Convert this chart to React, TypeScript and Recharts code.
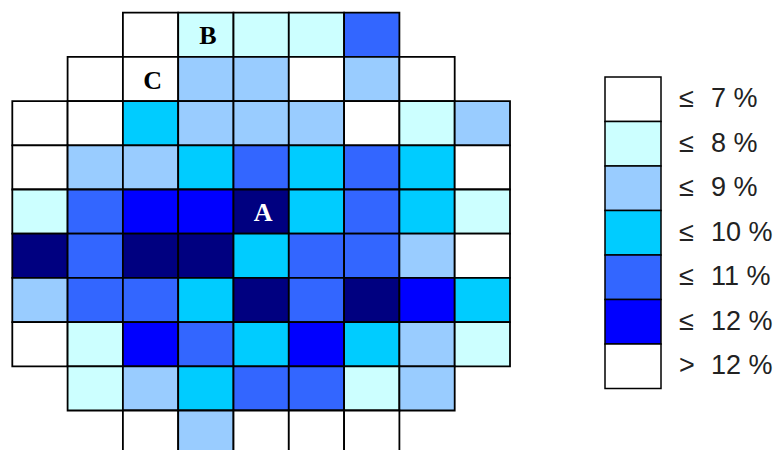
import React from 'react';
import { ScatterChart, Scatter, XAxis, YAxis, ReferenceArea } from 'recharts';

// Level codes: 7 => ≤7%, 8 => ≤8%, ..., 12 => ≤12%, 13 => >12%
const rowStarts = [2, 1, 0, 0, 0, 0, 0, 0, 1, 2];
const rowValues: number[][] = [
  [7, 8, 8, 8, 11],
  [7, 7, 9, 9, 7, 9, 7],
  [7, 7, 10, 9, 9, 9, 7, 8, 9],
  [7, 9, 9, 10, 11, 10, 11, 10, 7],
  [8, 11, 12, 12, 13, 10, 11, 10, 8],
  [13, 11, 13, 13, 10, 11, 11, 9, 7],
  [9, 11, 11, 10, 13, 11, 13, 12, 10],
  [7, 8, 12, 11, 10, 12, 10, 9, 8],
  [8, 9, 10, 11, 11, 8, 9],
  [7, 9, 7, 7, 7],
];

const cellLabels = [
  { col: 3, row: 0, label: 'B', light: false },
  { col: 2, row: 1, label: 'C', light: false },
  { col: 4, row: 4, label: 'A', light: true },
];

const legendLevels = [7, 8, 9, 10, 11, 12, 13];
const legendTexts = ['7 %', '8 %', '9 %', '10 %', '11 %', '12 %', '12 %'];
const legendSymbols = ['≤', '≤', '≤', '≤', '≤', '≤', '>'];

const cellColors: Record<number, string> = {
  7: '#FFFFFF',
  8: '#CCFFFF',
  9: '#99CCFF',
  10: '#00CCFF',
  11: '#3366FF',
  12: '#0000FF',
  13: '#000080',
};
const legendColors: Record<number, string> = { ...cellColors, 13: '#FFFFFF' };

const cells = rowValues.flatMap((vals, r) =>
  vals.map((v, i) => ({ col: rowStarts[r] + i, row: r, level: v }))
);

const labelData = cellLabels.map((c) => ({ x: c.col + 0.5, y: c.row + 0.5, label: c.label, light: c.light }));

const LabelShape = (props: any) => {
  const { cx, cy, payload } = props;
  return (
    <text
      x={cx + 2}
      y={cy + 1}
      textAnchor="middle"
      dominantBaseline="central"
      fontFamily="'Liberation Serif', serif"
      fontWeight="bold"
      fontSize={26}
      fill={payload.light ? '#FFFFFF' : '#000000'}
    >
      {payload.label}
    </text>
  );
};

const Legend = () => {
  const top = 77;
  const h = 44.5;
  return (
    <svg width={776} height={450} style={{ position: 'absolute', left: 0, top: 0, pointerEvents: 'none' }}>
      {legendLevels.map((lv, i) => (
        <rect key={'r' + i} x={605} y={top + i * h} width={56} height={h} fill={legendColors[lv]} stroke="#000" strokeWidth={1.5} />
      ))}
      {legendLevels.map((lv, i) => (
        <g key={'t' + i} fontFamily="'Liberation Sans', Arial, sans-serif" fontSize={27} fill="#222">
          <text x={679} y={top + i * h + 30}>{legendSymbols[i]}</text>
          <text x={711} y={top + i * h + 30}>{legendTexts[i]}</text>
        </g>
      ))}
    </svg>
  );
};

export default function App() {
  return (
    <div style={{ position: 'fixed', left: 0, top: 0, width: 776, height: 450, overflow: 'hidden', background: '#fff' }}>
      <ScatterChart width={776} height={470} margin={{ top: 12.7, left: 12.3, right: 266, bottom: 15.3 }}>
        <XAxis type="number" dataKey="x" domain={[0, 9]} hide />
        <YAxis type="number" dataKey="y" domain={[0, 10]} reversed hide />
        {cells.map((c, i) => (
          <ReferenceArea
            key={i}
            x1={c.col}
            x2={c.col + 1}
            y1={c.row}
            y2={c.row + 1}
            fill={cellColors[c.level]}
            fillOpacity={1}
            stroke="#000"
            strokeWidth={1.8}
            strokeOpacity={1}
            ifOverflow="visible"
          />
        ))}
        <Scatter data={labelData} shape={<LabelShape />} isAnimationActive={false} />
      </ScatterChart>
      <Legend />
    </div>
  );
}
